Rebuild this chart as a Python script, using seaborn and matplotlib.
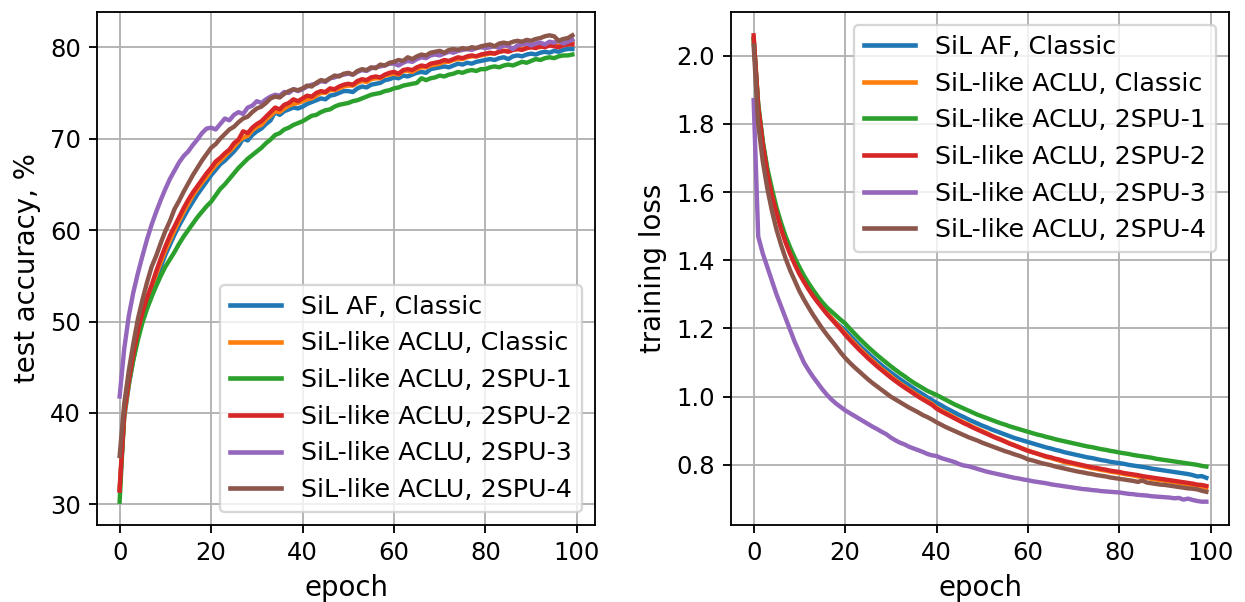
import matplotlib
matplotlib.use("Agg")
import matplotlib.pyplot as plt
import seaborn as sns
import numpy as np
import pandas as pd

epochs = list(range(100))
series_names = ["SiL AF, Classic", "SiL-like ACLU, Classic", "SiL-like ACLU, 2SPU-1",
                "SiL-like ACLU, 2SPU-2", "SiL-like ACLU, 2SPU-3", "SiL-like ACLU, 2SPU-4"]

# ---- test accuracy, % ----
acc_sil_classic = [
    31.6, 39.5, 43.0, 45.9, 48.3, 50.3, 51.9, 53.3, 54.7, 56.0,
    57.3, 58.4, 59.5, 60.5, 61.4, 62.3, 63.1, 63.9, 64.6, 65.3,
    66.0, 66.6, 67.2, 67.6, 68.1, 68.6, 69.2, 70.0, 69.8, 70.4,
    70.8, 71.1, 71.6, 72.0, 72.9, 72.6, 73.0, 73.2, 73.4, 73.3,
    73.5, 73.8, 74.0, 74.2, 74.4, 74.3, 74.7, 74.8, 75.0, 75.2,
    75.2, 75.1, 75.5, 75.7, 75.6, 75.9, 76.0, 76.1, 76.4, 76.5,
    76.7, 76.6, 76.9, 76.8, 77.0, 77.2, 77.3, 77.2, 77.6, 77.7,
    77.8, 77.9, 77.8, 78.0, 78.2, 78.1, 78.3, 78.2, 78.4, 78.5,
    78.6, 78.7, 78.6, 78.8, 78.9, 78.7, 79.0, 79.1, 79.0, 79.2,
    79.3, 79.2, 79.4, 79.5, 79.4, 79.6, 79.5, 79.7, 79.8, 79.8]
acc_aclu_classic = [
    31.8, 39.7, 43.2, 46.2, 48.6, 50.7, 52.3, 53.7, 55.2, 56.5,
    57.8, 58.9, 60.0, 61.0, 62.0, 62.9, 63.8, 64.5, 65.2, 65.8,
    66.5, 67.1, 67.6, 68.1, 68.6, 69.1, 69.7, 70.1, 70.3, 70.9,
    71.3, 71.5, 72.1, 72.5, 73.0, 72.9, 73.3, 73.6, 73.8, 73.9,
    74.1, 74.3, 74.4, 74.7, 75.0, 75.0, 75.3, 75.3, 75.5, 75.7,
    75.8, 75.8, 76.1, 76.3, 76.2, 76.5, 76.6, 76.6, 76.9, 77.0,
    77.1, 77.0, 77.4, 77.4, 77.3, 77.6, 77.8, 77.8, 78.0, 78.1,
    78.2, 78.4, 78.4, 78.6, 78.7, 78.7, 78.9, 79.0, 79.0, 79.1,
    79.2, 79.3, 79.3, 79.5, 79.6, 79.6, 79.7, 79.8, 79.8, 79.9,
    80.0, 80.1, 80.0, 80.2, 80.3, 80.2, 80.2, 80.4, 80.5, 80.6]
acc_2spu1 = [
    30.3, 40.0, 43.3, 45.8, 48.0, 49.9, 51.4, 52.7, 53.9, 55.0,
    56.0, 56.8, 57.6, 58.5, 59.3, 60.0, 60.7, 61.4, 62.0, 62.6,
    63.1, 63.8, 64.5, 65.0, 65.6, 66.2, 66.8, 67.3, 67.8, 68.2,
    68.6, 69.0, 69.5, 69.9, 70.4, 70.6, 71.0, 71.2, 71.5, 71.7,
    71.9, 72.2, 72.5, 72.6, 72.9, 73.1, 73.2, 73.5, 73.7, 73.8,
    73.9, 74.1, 74.2, 74.4, 74.6, 74.8, 74.9, 75.0, 75.2, 75.3,
    75.5, 75.6, 75.8, 75.9, 76.0, 76.1, 76.6, 76.4, 76.6, 76.7,
    76.9, 76.8, 77.0, 77.1, 77.3, 77.2, 77.4, 77.5, 77.4, 77.6,
    77.6, 77.8, 77.9, 77.8, 78.0, 78.1, 78.0, 78.2, 78.4, 78.3,
    78.5, 78.7, 78.6, 78.8, 78.9, 78.8, 79.0, 79.1, 79.1, 79.2]
acc_2spu2 = [
    31.5, 40.0, 43.6, 46.5, 49.0, 51.0, 52.6, 54.0, 55.5, 56.9,
    58.2, 59.4, 60.4, 61.4, 62.4, 63.3, 64.1, 64.8, 65.5, 66.2,
    66.8, 67.5, 67.9, 68.4, 68.8, 69.5, 69.9, 70.8, 70.6, 71.2,
    71.6, 71.9, 72.4, 72.9, 73.4, 73.2, 73.7, 73.9, 74.3, 74.1,
    74.4, 74.7, 74.6, 75.0, 75.2, 75.1, 75.5, 75.4, 75.7, 75.9,
    76.0, 75.9, 76.3, 76.5, 76.4, 76.7, 76.8, 76.7, 77.0, 77.2,
    77.3, 77.1, 77.5, 77.6, 77.5, 77.8, 78.0, 77.9, 78.2, 78.3,
    78.4, 78.6, 78.5, 78.7, 78.9, 78.8, 79.0, 79.1, 79.0, 79.2,
    79.3, 79.4, 79.3, 79.5, 79.6, 79.5, 79.7, 79.8, 79.7, 79.9,
    80.0, 79.9, 80.1, 80.0, 80.2, 80.1, 80.0, 80.2, 80.3, 80.3]
acc_2spu3 = [
    41.8, 47.0, 50.6, 53.2, 55.3, 57.2, 59.0, 60.6, 62.0, 63.3,
    64.5, 65.6, 66.5, 67.4, 68.1, 68.6, 69.3, 69.9, 70.6, 71.1,
    71.2, 71.0, 71.6, 72.2, 72.0, 72.6, 72.9, 72.7, 73.4, 73.6,
    74.1, 73.9, 74.3, 74.6, 74.8, 74.7, 75.1, 75.0, 75.4, 75.2,
    75.4, 75.7, 75.9, 76.0, 76.3, 76.2, 76.6, 76.7, 76.9, 77.0,
    77.1, 77.0, 77.3, 77.5, 77.4, 77.7, 77.8, 77.9, 78.0, 78.2,
    78.2, 78.0, 78.3, 78.5, 78.4, 78.7, 78.9, 78.8, 79.1, 79.2,
    79.1, 79.3, 79.5, 79.4, 79.6, 79.7, 79.8, 79.7, 79.9, 80.0,
    79.9, 80.0, 80.1, 79.9, 80.2, 80.1, 79.8, 80.2, 80.3, 80.4,
    80.2, 80.4, 80.5, 80.3, 80.6, 80.5, 80.7, 80.4, 80.6, 80.8]
acc_2spu4 = [
    35.3, 41.0, 44.6, 47.6, 50.3, 52.4, 54.3, 56.0, 57.2, 58.6,
    59.9, 61.0, 62.3, 63.2, 64.2, 65.1, 66.0, 66.8, 67.6, 68.3,
    69.0, 69.4, 70.0, 70.5, 71.0, 71.3, 71.8, 72.2, 72.4, 72.9,
    73.3, 73.5, 73.9, 74.4, 74.6, 74.5, 74.9, 75.2, 75.4, 75.3,
    75.5, 75.8, 75.7, 76.1, 76.4, 76.3, 76.6, 76.9, 76.8, 77.1,
    77.2, 77.0, 77.4, 77.6, 77.5, 77.8, 77.7, 78.1, 78.0, 78.3,
    78.4, 78.6, 78.5, 78.9, 78.7, 79.0, 79.2, 79.1, 79.4, 79.5,
    79.6, 79.4, 79.7, 79.8, 79.7, 79.9, 79.8, 80.0, 79.9, 80.1,
    80.2, 80.3, 80.1, 80.4, 80.5, 80.4, 80.6, 80.7, 80.6, 80.8,
    80.7, 80.9, 81.0, 81.2, 81.3, 81.2, 80.7, 80.9, 81.0, 81.3]

# ---- training loss ----
loss_sil_classic = [
    2.05, 1.85, 1.745, 1.66, 1.60, 1.548, 1.50, 1.46, 1.425, 1.395,
    1.367, 1.343, 1.32, 1.30, 1.281, 1.263, 1.246, 1.23, 1.217, 1.206,
    1.195, 1.18, 1.166, 1.152, 1.139, 1.127, 1.115, 1.103, 1.092, 1.081,
    1.071, 1.061, 1.051, 1.042, 1.033, 1.024, 1.015, 1.007, 0.998, 0.99,
    0.982, 0.975, 0.967, 0.96, 0.953, 0.946, 0.94, 0.933, 0.927, 0.921,
    0.915, 0.91, 0.904, 0.899, 0.894, 0.889, 0.884, 0.879, 0.875, 0.871,
    0.867, 0.863, 0.859, 0.855, 0.851, 0.848, 0.844, 0.841, 0.837, 0.834,
    0.831, 0.828, 0.825, 0.822, 0.82, 0.817, 0.814, 0.812, 0.809, 0.807,
    0.805, 0.803, 0.80, 0.798, 0.796, 0.794, 0.792, 0.789, 0.787, 0.785,
    0.783, 0.781, 0.779, 0.777, 0.775, 0.773, 0.77, 0.766, 0.767, 0.762]
loss_aclu_classic = [
    2.05, 1.85, 1.742, 1.657, 1.592, 1.542, 1.495, 1.455, 1.421, 1.391,
    1.363, 1.34, 1.318, 1.298, 1.28, 1.263, 1.246, 1.231, 1.216, 1.201,
    1.186, 1.171, 1.157, 1.143, 1.13, 1.117, 1.105, 1.093, 1.081, 1.071,
    1.06, 1.049, 1.039, 1.03, 1.021, 1.012, 1.003, 0.995, 0.987, 0.979,
    0.968, 0.96, 0.953, 0.946, 0.938, 0.931, 0.924, 0.918, 0.911, 0.905,
    0.899, 0.893, 0.886, 0.88, 0.875, 0.869, 0.863, 0.858, 0.852, 0.847,
    0.842, 0.837, 0.833, 0.828, 0.823, 0.82, 0.816, 0.812, 0.808, 0.805,
    0.802, 0.799, 0.796, 0.793, 0.79, 0.788, 0.785, 0.783, 0.78, 0.778,
    0.776, 0.773, 0.771, 0.769, 0.766, 0.764, 0.762, 0.759, 0.757, 0.755,
    0.753, 0.751, 0.749, 0.747, 0.745, 0.742, 0.74, 0.737, 0.735, 0.733]
loss_2spu1 = [
    2.05, 1.86, 1.75, 1.67, 1.61, 1.555, 1.51, 1.47, 1.437, 1.407,
    1.38, 1.355, 1.333, 1.313, 1.294, 1.277, 1.262, 1.25, 1.238, 1.226,
    1.215, 1.20, 1.186, 1.172, 1.159, 1.146, 1.134, 1.122, 1.111, 1.10,
    1.089, 1.079, 1.069, 1.06, 1.05, 1.041, 1.033, 1.025, 1.017, 1.011,
    1.005, 0.998, 0.991, 0.984, 0.977, 0.971, 0.965, 0.959, 0.953, 0.947,
    0.942, 0.937, 0.932, 0.927, 0.922, 0.918, 0.913, 0.909, 0.905, 0.901,
    0.897, 0.893, 0.889, 0.886, 0.882, 0.879, 0.875, 0.872, 0.869, 0.866,
    0.863, 0.86, 0.857, 0.854, 0.852, 0.849, 0.846, 0.844, 0.841, 0.839,
    0.836, 0.834, 0.832, 0.829, 0.827, 0.825, 0.823, 0.821, 0.818, 0.816,
    0.814, 0.812, 0.81, 0.808, 0.806, 0.804, 0.802, 0.80, 0.797, 0.795]
loss_2spu2 = [
    2.06, 1.85, 1.74, 1.655, 1.59, 1.54, 1.492, 1.452, 1.418, 1.388,
    1.36, 1.337, 1.315, 1.295, 1.277, 1.26, 1.243, 1.228, 1.213, 1.198,
    1.182, 1.167, 1.153, 1.139, 1.126, 1.113, 1.101, 1.089, 1.078, 1.067,
    1.056, 1.046, 1.036, 1.027, 1.018, 1.009, 1.0, 0.992, 0.984, 0.976,
    0.965, 0.957, 0.95, 0.943, 0.936, 0.929, 0.922, 0.916, 0.909, 0.903,
    0.897, 0.891, 0.885, 0.879, 0.874, 0.868, 0.862, 0.857, 0.852, 0.846,
    0.841, 0.837, 0.833, 0.829, 0.825, 0.822, 0.818, 0.815, 0.811, 0.808,
    0.805, 0.802, 0.799, 0.796, 0.793, 0.791, 0.788, 0.786, 0.783, 0.781,
    0.779, 0.776, 0.774, 0.772, 0.77, 0.767, 0.765, 0.763, 0.761, 0.759,
    0.757, 0.755, 0.753, 0.751, 0.749, 0.747, 0.745, 0.742, 0.741, 0.738]
loss_2spu3 = [
    1.87, 1.47, 1.42, 1.38, 1.34, 1.30, 1.265, 1.23, 1.195, 1.16,
    1.13, 1.10, 1.078, 1.058, 1.04, 1.022, 1.006, 0.992, 0.98, 0.97,
    0.96, 0.952, 0.944, 0.936, 0.928, 0.92, 0.912, 0.905, 0.897, 0.89,
    0.88, 0.872, 0.865, 0.86, 0.853, 0.848, 0.843, 0.838, 0.832, 0.828,
    0.826, 0.82, 0.816, 0.812, 0.808, 0.802, 0.798, 0.796, 0.792, 0.788,
    0.784, 0.78, 0.777, 0.774, 0.771, 0.768, 0.765, 0.762, 0.76, 0.757,
    0.755, 0.752, 0.75, 0.748, 0.746, 0.743, 0.741, 0.739, 0.737, 0.735,
    0.733, 0.731, 0.729, 0.728, 0.726, 0.725, 0.723, 0.722, 0.721, 0.72,
    0.719, 0.717, 0.715, 0.714, 0.712, 0.711, 0.71, 0.708, 0.707, 0.706,
    0.705, 0.704, 0.702, 0.703, 0.698, 0.701, 0.697, 0.694, 0.692, 0.692]
loss_2spu4 = [
    2.03, 1.80, 1.69, 1.61, 1.545, 1.49, 1.445, 1.405, 1.37, 1.34,
    1.31, 1.285, 1.262, 1.24, 1.22, 1.20, 1.182, 1.165, 1.148, 1.13,
    1.114, 1.10, 1.087, 1.075, 1.063, 1.051, 1.04, 1.03, 1.02, 1.01,
    1.0, 0.992, 0.984, 0.976, 0.968, 0.961, 0.954, 0.946, 0.94, 0.933,
    0.925, 0.918, 0.911, 0.905, 0.899, 0.893, 0.887, 0.881, 0.876, 0.871,
    0.865, 0.86, 0.855, 0.85, 0.845, 0.84, 0.836, 0.831, 0.827, 0.822,
    0.816, 0.813, 0.809, 0.805, 0.802, 0.799, 0.795, 0.792, 0.789, 0.786,
    0.783, 0.78, 0.778, 0.775, 0.773, 0.77, 0.768, 0.766, 0.763, 0.761,
    0.759, 0.757, 0.755, 0.753, 0.75, 0.754, 0.748, 0.746, 0.744, 0.742,
    0.741, 0.739, 0.737, 0.735, 0.733, 0.731, 0.73, 0.728, 0.724, 0.721]

acc_series = [acc_sil_classic, acc_aclu_classic, acc_2spu1, acc_2spu2, acc_2spu3, acc_2spu4]
loss_series = [loss_sil_classic, loss_aclu_classic, loss_2spu1, loss_2spu2, loss_2spu3, loss_2spu4]

def long_frame(series_list):
    rows = []
    for name, vals in zip(series_names, series_list):
        for e, v in zip(epochs, vals):
            rows.append({"epoch": e, "value": v, "series": name})
    return pd.DataFrame(rows)

df_acc = long_frame(acc_series)
df_loss = long_frame(loss_series)

plt.rcParams.update(plt.rcParamsDefault)
plt.rcParams['font.family'] = ['DejaVu Sans']
plt.rcParams['axes.labelsize'] = 12
plt.rcParams['legend.fontsize'] = 11
plt.rcParams['xtick.labelsize'] = 10.5
plt.rcParams['ytick.labelsize'] = 10.5
palette = sns.color_palette("tab10", 6)

fig = plt.figure(figsize=(1245 / 166, 602 / 166), dpi=166)
ax1 = fig.add_axes([97 / 1245, 1 - 525 / 602, 498 / 1245, 513 / 602])
ax2 = fig.add_axes([731 / 1245, 1 - 525 / 602, 498 / 1245, 513 / 602])

sns.lineplot(data=df_acc, x="epoch", y="value", hue="series", hue_order=series_names,
             palette=palette, linewidth=1.9, ax=ax1, estimator=None)
sns.lineplot(data=df_loss, x="epoch", y="value", hue="series", hue_order=series_names,
             palette=palette, linewidth=1.9, ax=ax2, estimator=None)

for ax in (ax1, ax2):
    ax.grid(True)
    ax.set_xlabel("epoch")
    ax.set_xticks([0, 20, 40, 60, 80, 100])
    ax.margins(x=0.05, y=0.05)

ax1.set_ylabel("test accuracy, %")
ax2.set_ylabel("training loss")
sns.move_legend(ax1, "lower right", title=None)
sns.move_legend(ax2, "upper right", title=None)
for leg in (ax1.get_legend(), ax2.get_legend()):
    for line in leg.get_lines():
        line.set_linewidth(2.0)

fig.savefig("out.png", dpi=166)
